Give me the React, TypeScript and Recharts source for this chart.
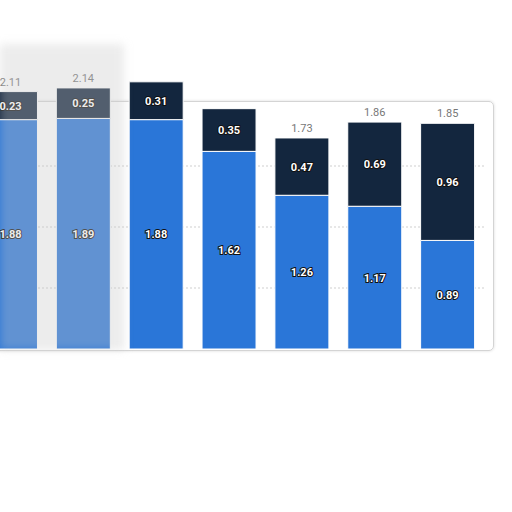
import { BarChart, Bar, XAxis, YAxis, CartesianGrid, LabelList } from 'recharts'

const years = ['2016', '2017', '2018', '2019', '2020', '2021', '2022']
const baseValues = [1.88, 1.89, 1.88, 1.62, 1.26, 1.17, 0.89]
const topValues = [0.23, 0.25, 0.31, 0.35, 0.47, 0.69, 0.96]
const totals: (number | null)[] = [2.11, 2.14, null, null, 1.73, 1.86, 1.85]
const gridValues = [0.5, 1, 1.5]

const BLUE = '#2a76d8'
const NAVY = '#13263e'

const data = years.map((year, i) => ({
  year,
  base: baseValues[i],
  top: topValues[i],
  total: totals[i],
}))

const innerLabel = {
  fill: '#fff',
  fontSize: 11,
  fontWeight: 700,
  fontFamily: 'Roboto, Arial, sans-serif',
  stroke: '#111',
  strokeWidth: 2,
  paintOrder: 'stroke',
} as any

export default function App() {
  return (
    <div style={{ position: 'absolute', left: 0, top: 0, width: 512, height: 512, overflow: 'hidden', background: '#fff' }}>
      <div
        style={{
          position: 'absolute',
          left: -10,
          top: 101,
          width: 502,
          height: 248,
          border: '1px solid #d4d4d4',
          borderRadius: 5,
          boxShadow: '0 0 3px rgba(0,0,0,0.15)',
        }}
      />
      <BarChart
        width={520}
        height={360}
        data={data}
        margin={{ top: 44, right: 10, left: 0, bottom: 11 }}
        barCategoryGap="13%"
        style={{ position: 'absolute', left: -26, top: 0 }}
      >
        <CartesianGrid
          vertical={false}
          horizontalValues={gridValues}
          stroke="#cfcfcf"
          strokeDasharray="2 2"
        />
        <XAxis dataKey="year" hide />
        <YAxis hide domain={[0, 2.5]} ticks={[0, ...gridValues]} />
        <Bar dataKey="base" stackId="a" fill={BLUE} stroke="#fff" strokeWidth={1} isAnimationActive={false}>
          <LabelList dataKey="base" position="center" style={innerLabel} />
        </Bar>
        <Bar dataKey="top" stackId="a" fill={NAVY} stroke="#fff" strokeWidth={1} isAnimationActive={false}>
          <LabelList dataKey="top" position="center" style={innerLabel} />
          <LabelList
            dataKey="total"
            position="top"
            offset={6}
            style={{ fill: '#777', fontSize: 11, fontFamily: 'Roboto, Arial, sans-serif' }}
          />
        </Bar>
      </BarChart>
      <div
        style={{
          position: 'absolute',
          left: 0,
          top: 44,
          width: 124,
          height: 306,
          background: 'rgba(200,200,200,0.35)',
          filter: 'blur(4px)',
        }}
      />
    </div>
  )
}
